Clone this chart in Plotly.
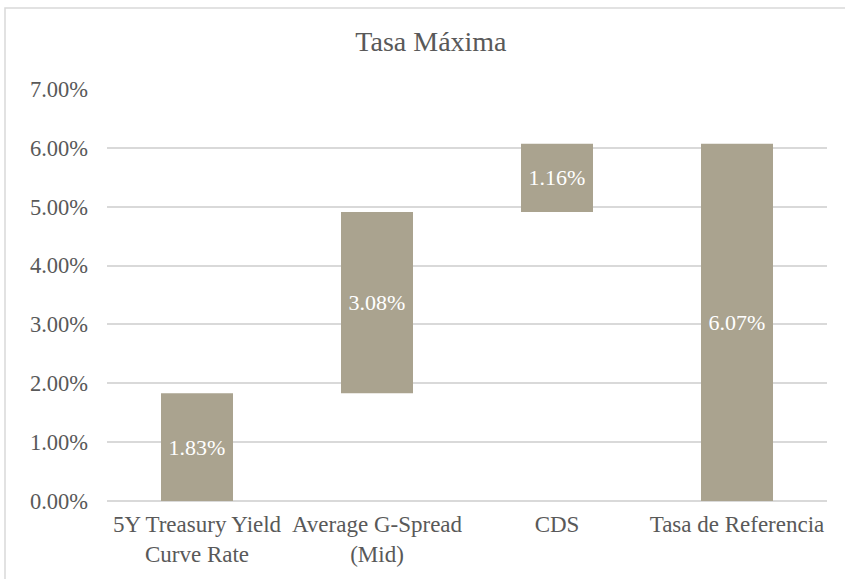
import plotly.graph_objects as go

categories = ["5Y Treasury Yield<br>Curve Rate", "Average G-Spread<br>(Mid)", "CDS", "Tasa de Referencia"]
values = [1.83, 3.08, 1.16, 6.07]
measures = ["relative", "relative", "relative", "total"]
y_ticks = [0, 1, 2, 3, 4, 5, 6, 7]
y_tick_labels = [f"{v:.2f}%" for v in y_ticks]
title_text = "Tasa Máxima"

BAR = "#AAA38F"
TXT = "#595959"
GRID = "#D9D9D9"
FONT = "Liberation Serif"

fig = go.Figure(go.Waterfall(
    x=categories,
    y=values,
    measure=measures,
    text=[f"{v:.2f}%" for v in values],
    textinfo="text",
    textposition="inside",
    insidetextanchor="middle",
    textfont=dict(family=FONT, size=22, color="#FFFFFF"),
    increasing=dict(marker=dict(color=BAR)),
    decreasing=dict(marker=dict(color=BAR)),
    totals=dict(marker=dict(color=BAR)),
    connector=dict(visible=False),
    width=0.4,
    hoverinfo="skip",
))

T, B = 89, 73
PH = 579 - T - B

fig.update_layout(
    width=845, height=579,
    margin=dict(l=107, r=18, t=T, b=B),
    paper_bgcolor="white", plot_bgcolor="white",
    showlegend=False,
    font=dict(family=FONT, size=22, color=TXT),
    title=dict(text=title_text, x=0.51, xanchor="center", y=1 - 41 / 579, yanchor="middle",
               yref="container", font=dict(family=FONT, size=28, color=TXT)),
    xaxis=dict(showgrid=False, showline=False, zeroline=False, ticks="",
               ticklabelstandoff=7,
               tickfont=dict(family=FONT, size=23, color=TXT)),
    yaxis=dict(range=[0, 7], tickvals=y_ticks, ticktext=y_tick_labels,
               showgrid=True, gridcolor=GRID, gridwidth=1.5,
               zeroline=True, zerolinecolor=GRID, zerolinewidth=1.5,
               showline=False, ticks="", ticklabelstandoff=18,
               tickfont=dict(family=FONT, size=22.5, color=TXT)),
    shapes=[dict(type="rect", xref="paper", yref="paper",
                 x0=(5 - 107) / 720, x1=(860 - 107) / 720,
                 y0=((579 - B) - 600) / PH, y1=((579 - B) - 7) / PH,
                 line=dict(color=GRID, width=1.5), fillcolor="rgba(0,0,0,0)", layer="below")],
)

fig.write_html("out.html", config={"displayModeBar": False},
               post_script="document.body.style.margin='0';")
